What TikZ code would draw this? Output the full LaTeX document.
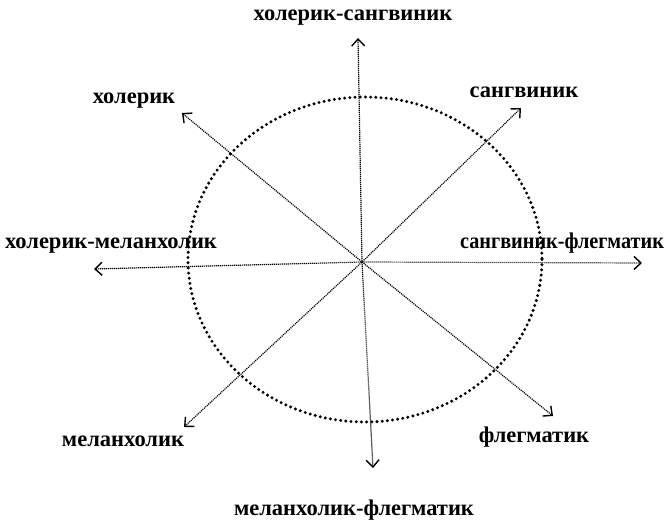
\documentclass[tikz,border=0pt]{standalone}
\usepackage{fontspec}
\setmainfont{Liberation Serif}
\usetikzlibrary{arrows.meta}
\begin{document}
\begin{tikzpicture}[x=1pt,y=-1pt,
  axis/.style={line width=1.2pt, dash pattern=on 1.1pt off 0.9pt,
    {Straight Barb[length=7pt,width=13pt,line width=1.4pt]}-{Straight Barb[length=7pt,width=13pt,line width=1.4pt]}},
  ring/.style={line width=3.3pt, line cap=round, dash pattern=on 0pt off 5.2pt},
  lbl/.style={font=\fontsize{22.5}{24}\selectfont\bfseries, inner sep=0pt}]
\useasboundingbox (0,0) rectangle (665,521);
\fill[white] (0,0) rectangle (665,521);
\coordinate (c) at (362,262);
\draw[ring] (365,259.5) ellipse [x radius=177, y radius=162.5];
% axis end points
\coordinate (t) at (358,38);
\coordinate (b) at (373,468);
\coordinate (l) at (94,269);
\coordinate (r) at (642,263);
\coordinate (ul) at (182,113);
\coordinate (lr) at (553,416);
\coordinate (ur) at (521,108);
\coordinate (ll) at (184,427);
\draw[axis] (t) -- (c) -- (b);
\draw[axis] (l) -- (c) -- (r);
\draw[axis] (ul) -- (c) -- (lr);
\draw[axis] (ur) -- (c) -- (ll);
% labels
\node[lbl] (nt) at (353,18) {холерик-сангвиник};
\node[lbl] (nb) at (354,510) {меланхолик-флегматик};
\node[lbl] (nl) at (111,246) {холерик-меланхолик};
\node[lbl] (nr) at (562,243) {\scalebox{0.9}[1]{сангвиник-флегматик}};
\node[lbl] (nul) at (134,101) {холерик};
\node[lbl] (nur) at (524,92) {сангвиник};
\node[lbl] (nll) at (123,441) {меланхолик};
\node[lbl] (nlr) at (534,437) {флегматик};
\end{tikzpicture}
\end{document}
